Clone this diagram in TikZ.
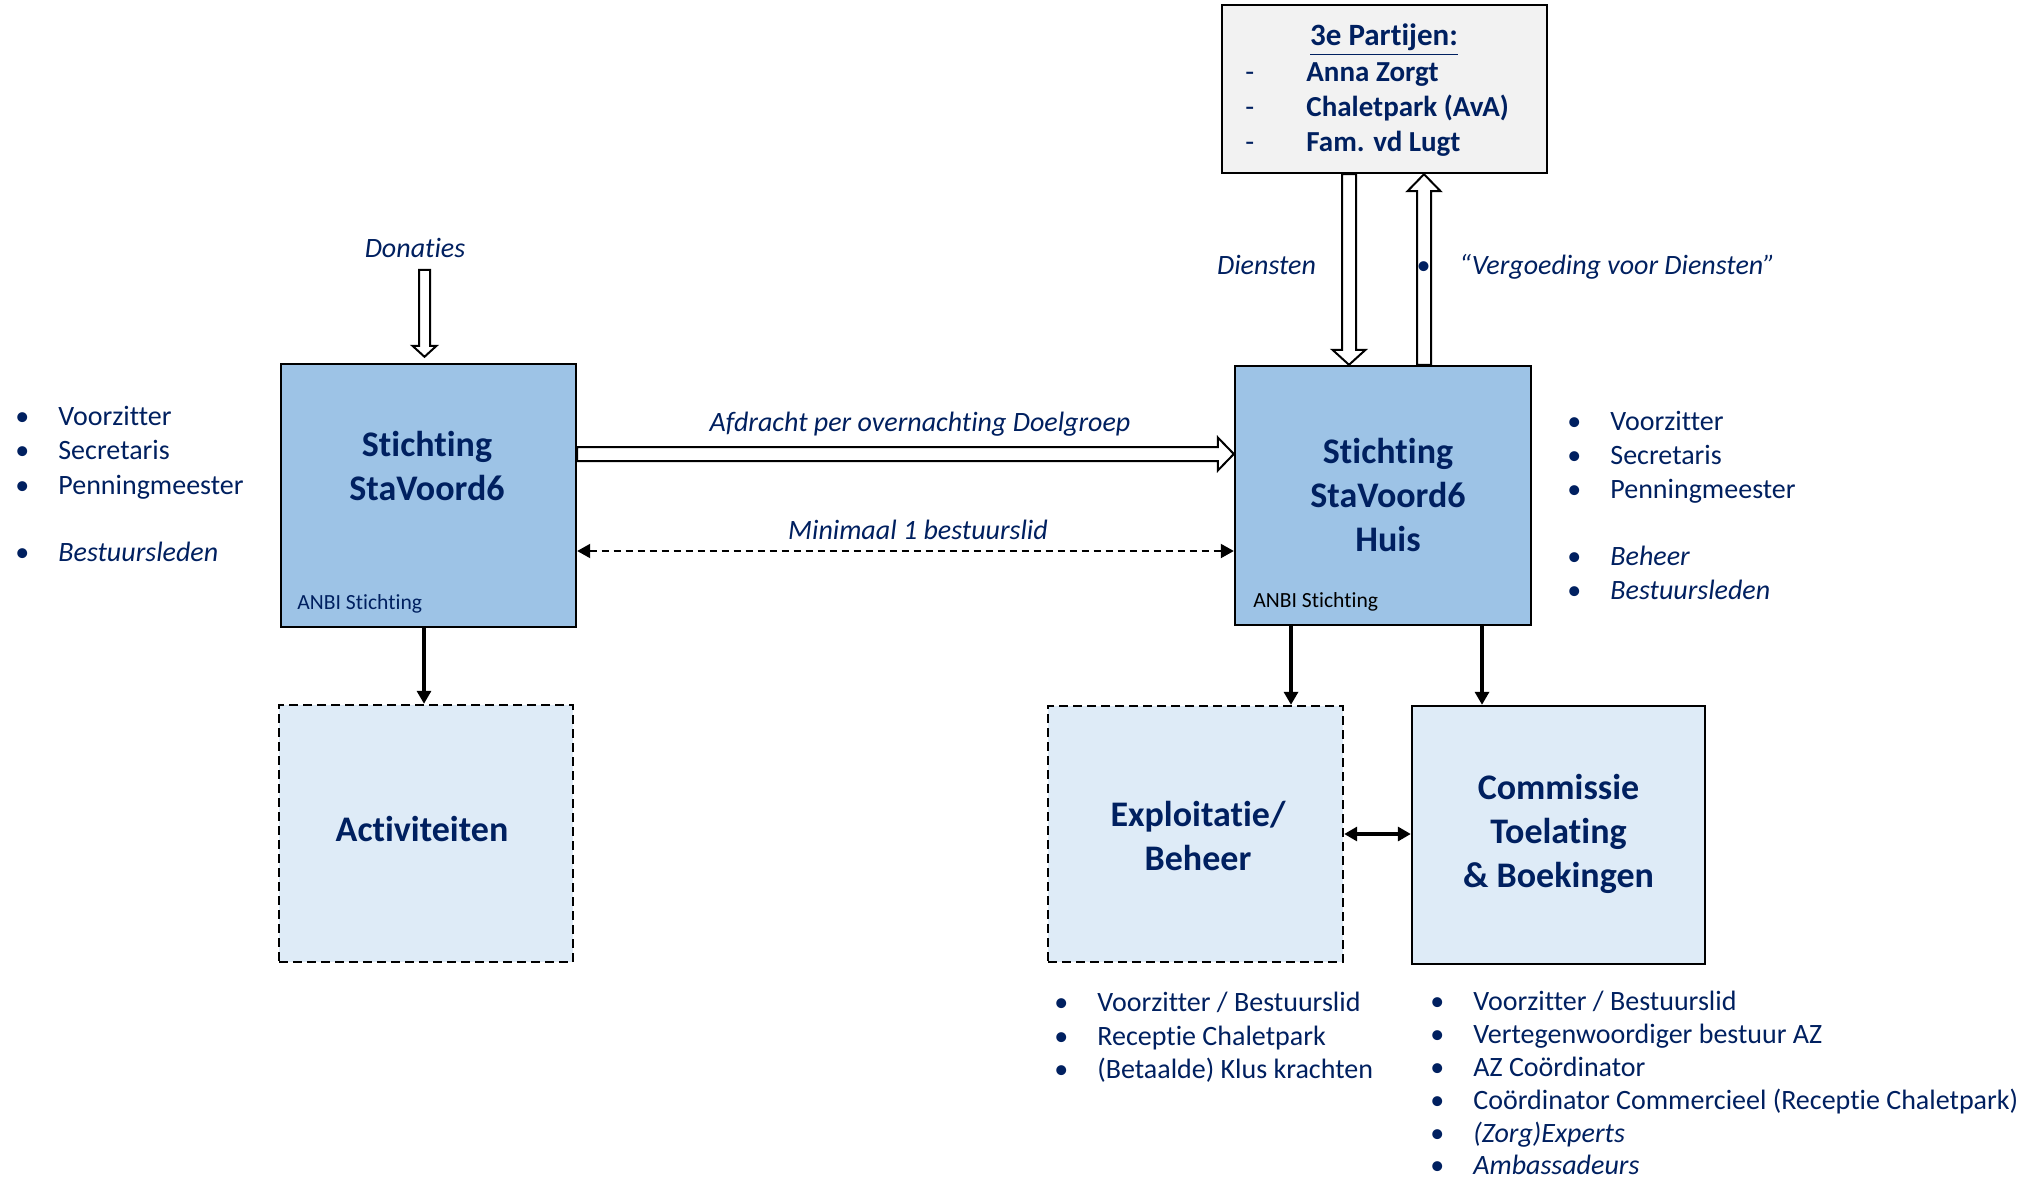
\documentclass[tikz,border=0pt]{standalone}
\usepackage{fontspec}
\setmainfont{Carlito}[Ligatures={NoCommon}]
\usetikzlibrary{arrows.meta,calc}
\definecolor{navy}{RGB}{0,32,96}
\definecolor{boxblue}{RGB}{157,195,230}
\definecolor{lightblue}{RGB}{222,235,247}
\definecolor{panelgray}{RGB}{242,242,242}
\newcommand{\bul}{\makebox[21.5pt][l]{\textbullet}}
% hollow block arrow: #1 from, #2 to, #3 shaft half width, #4 head half width, #5 head length
\newcommand{\hollowarrow}[5]{%
  \coordinate (ha-c) at ($(#2)!#5!(#1)$);
  \draw[hollow] ($(#1)!#3!90:(#2)$) -- ($(ha-c)!#3!90:(#2)$) -- ($(ha-c)!#4!90:(#2)$)
     -- (#2) -- ($(ha-c)!#4!-90:(#2)$) -- ($(ha-c)!#3!-90:(#2)$) -- ($(#1)!#3!-90:(#2)$) -- cycle;
}
\begin{document}
\begin{tikzpicture}[x=0.5pt,y=-0.5pt,
  mainbox/.style={draw=black, line width=1.2pt, fill=boxblue, inner sep=0pt},
  subbox/.style={draw=black, line width=1.2pt, fill=lightblue, inner sep=0pt},
  dashedbox/.style={subbox, dash pattern=on 4.5pt off 2.5pt},
  title/.style={font=\fontsize{18}{22}\selectfont\bfseries, text=navy, align=center, inner sep=0pt},
  listitem/.style={font=\fontsize{14}{17}\selectfont, text=navy, anchor=base west, inner sep=0pt},
  lbl/.style={font=\fontsize{14}{17}\selectfont\itshape, text=navy, inner sep=0pt},
  ptitem/.style={font=\fontsize{14.5}{17.5}\selectfont\bfseries, text=navy, anchor=base west, inner sep=0pt},
  anbi/.style={font=\fontsize{10.8}{13}\selectfont, anchor=base west, inner sep=0pt},
  conn/.style={line width=1.6pt, -{Triangle[length=6.5pt,width=7pt]}},
  conn2/.style={line width=1.6pt, {Triangle[length=6.5pt,width=7pt]}-{Triangle[length=6.5pt,width=7pt]}},
  dconn/.style={line width=1pt, dash pattern=on 3.5pt off 2.5pt, {Triangle[length=6.5pt,width=7pt]}-{Triangle[length=6.5pt,width=7pt]}},
  hollow/.style={draw=black, line width=1pt, fill=white, line join=miter}
]
\fill[white] (0,0) rectangle (2028,1182);
\useasboundingbox (0,0) rectangle (2028,1182);

% boxes
\node[mainbox, minimum width=147.5pt, minimum height=131.5pt] (sv) at (428.5,495.5) {};
\node[mainbox, minimum width=148pt, minimum height=129.5pt] (huis) at (1383,495.5) {};
\node[draw=black, line width=1.2pt, fill=panelgray, minimum width=162.5pt, minimum height=84pt, inner sep=0pt] (partijen) at (1384.5,89) {};
\node[dashedbox, minimum width=147pt, minimum height=128.5pt] (act) at (426,833.5) {};
\node[dashedbox, minimum width=147.5pt, minimum height=128pt] (expl) at (1195.5,834) {};
\node[subbox, minimum width=146.5pt, minimum height=129pt] (comm) at (1558.5,835) {};

% titles
\node[title] (svt) at (427,466) {Stichting\\StaVoord6};
\node[title] (huist) at (1388,495) {Stichting\\StaVoord6\\Huis};
\node[title] (actt) at (422,829) {Activiteiten};
\node[title] (explt) at (1198,836) {Exploitatie/\\Beheer};
\node[title] (commt) at (1558.5,834) {Commissie\\Toelating\\\& Boekingen};
\node[anbi, text=navy] (anbi1) at (297,609) {ANBI Stichting};
\node[anbi, text=black] (anbi2) at (1253,607) {ANBI Stichting};

% 3e partijen
\node[font=\fontsize{15.5}{18}\selectfont\bfseries, text=navy, anchor=base, inner sep=0pt] (ptt) at (1384,46) {\underline{3e Partijen:}};
\node[ptitem] (pt1) at (1245,82) {\makebox[30.5pt][l]{\mdseries -}Anna Zorgt};
\node[ptitem] (pt2) at (1245,117) {\makebox[30.5pt][l]{\mdseries -}Chaletpark (AvA)};
\node[ptitem] (pt3) at (1245,152) {\makebox[30.5pt][l]{\mdseries -}Fam. vd Lugt};

% connectors
\draw[conn] (sv.south -| 424,0) -- (act.north -| 424,0);
\draw[conn] (huis.south -| 1291,0) -- (expl.north -| 1291,0);
\draw[conn] (huis.south -| 1482,0) -- (comm.north -| 1482,0);
\draw[conn2] (expl.east) -- (expl.east -| comm.west);
\draw[dconn] (sv.east |- 0,551) -- (huis.west |- 0,551);

\coordinate (afd-s) at (sv.east |- 0,454);
\coordinate (afd-e) at (huis.west |- 0,454);
\hollowarrow{afd-s}{afd-e}{3.5pt}{8.25pt}{8pt}
\coordinate (don-s) at (424.5,270);
\coordinate (don-e) at ($(sv.north -| don-s)+(0,-6)$);
\hollowarrow{don-s}{don-e}{2.75pt}{6pt}{5.5pt}
\coordinate (dien-s) at (partijen.south -| 1349,0);
\coordinate (dien-e) at (huis.north -| 1349,0);
\hollowarrow{dien-s}{dien-e}{3.5pt}{8.25pt}{7.5pt}
\coordinate (verg-s) at (huis.north -| 1424,0);
\coordinate (verg-e) at (partijen.south -| 1424,0);
\hollowarrow{verg-s}{verg-e}{3.5pt}{8.25pt}{8.5pt}

% labels
\node[lbl, anchor=base] (don-l) at (415,257) {Donaties};
\node[lbl, anchor=base] (dien-l) at (1266.5,274) {Diensten};
\node[lbl, anchor=base west] (verg-l) at (1416,274) {\bul “Vergoeding voor Diensten”};
\node[lbl, anchor=base] (afd-l) at (920,431) {Afdracht per overnachting Doelgroep};
\node[lbl, anchor=base] (min-l) at (918,539) {Minimaal 1 bestuurslid};

% left list
\node[listitem] (l1) at (15,425) {\bul Voorzitter};
\node[listitem] (l2) at (15,459) {\bul Secretaris};
\node[listitem] (l3) at (15,494) {\bul Penningmeester};
\node[listitem] (l4) at (15,561) {\bul \textit{Bestuursleden}};

% right list
\node[listitem] (r1) at (1567,430) {\bul Voorzitter};
\node[listitem] (r2) at (1567,464) {\bul Secretaris};
\node[listitem] (r3) at (1567,498) {\bul Penningmeester};
\node[listitem] (r4) at (1567,565) {\bul \textit{Beheer}};
\node[listitem] (r5) at (1567,599) {\bul \textit{Bestuursleden}};

% exploitatie list
\node[listitem] (e1) at (1054,1011) {\bul Voorzitter / Bestuurslid};
\node[listitem] (e2) at (1054,1045) {\bul Receptie Chaletpark};
\node[listitem] (e3) at (1054,1078) {\bul (Betaalde) Klus krachten};

% commissie list
\node[listitem] (c1) at (1430,1010) {\bul Voorzitter / Bestuurslid};
\node[listitem] (c2) at (1430,1043) {\bul Vertegenwoordiger bestuur AZ};
\node[listitem] (c3) at (1430,1076) {\bul AZ Coördinator};
\node[listitem] (c4) at (1430,1109) {\bul Coördinator Commercieel (Receptie Chaletpark)};
\node[listitem] (c5) at (1430,1142) {\bul \textit{(Zorg)Experts}};
\node[listitem] (c6) at (1430,1174) {\bul \textit{Ambassadeurs}};
\end{tikzpicture}
\end{document}
